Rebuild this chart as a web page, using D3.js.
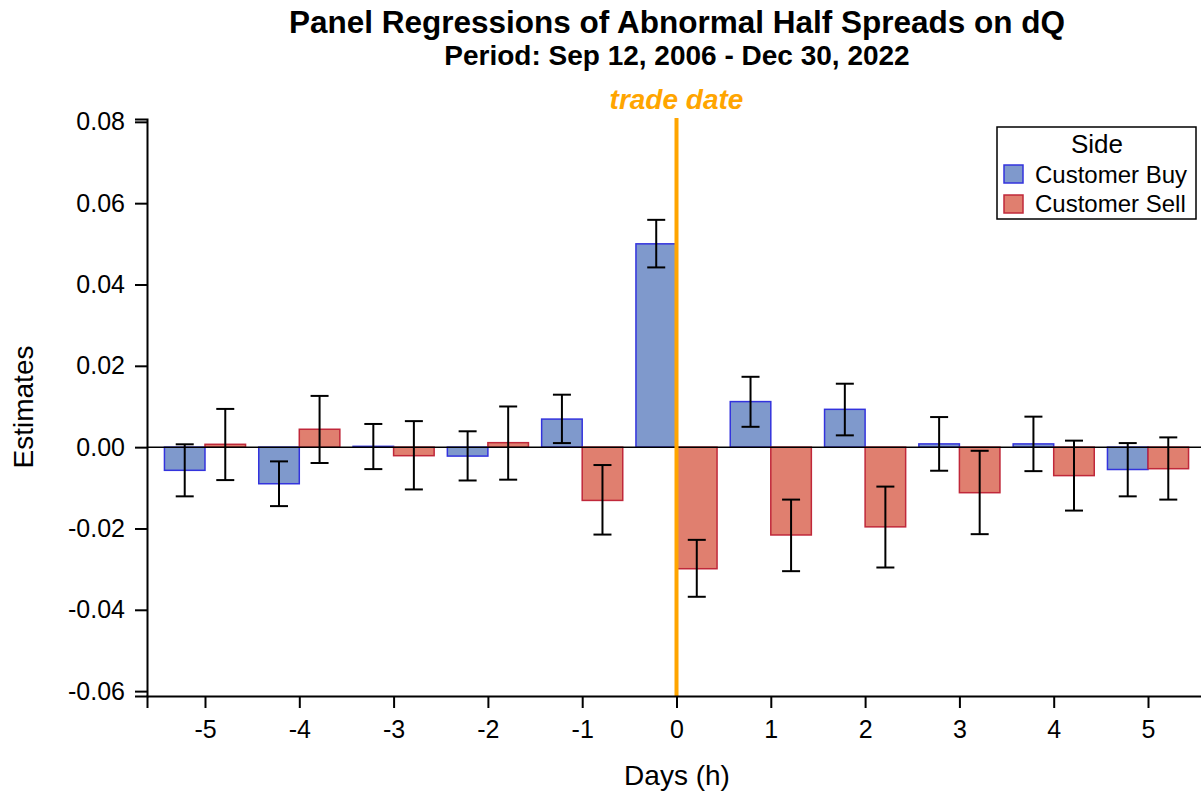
<!DOCTYPE html>
<html>
<head>
<meta charset="utf-8">
<script src="https://cdn.jsdelivr.net/npm/d3@7"></script>
<style>
  body { margin: 0; background: #fff; }
  text { font-family: "Liberation Sans", Arial, sans-serif; }
</style>
</head>
<body>
<div id="chart"></div>
<script>
// Data
const days = [-5, -4, -3, -2, -1, 0, 1, 2, 3, 4, 5];
const sides = ["Customer Buy", "Customer Sell"];
const buyEst = [-0.0057, -0.0090, 0.0002, -0.0022, 0.0069, 0.0500, 0.0112, 0.0093, 0.0008, 0.0008, -0.0055];
const buyLo  = [-0.0121, -0.0145, -0.0054, -0.0082, 0.0010, 0.0442, 0.0050, 0.0029, -0.0058, -0.0059, -0.0121];
const buyHi  = [0.0007, -0.0035, 0.0057, 0.0039, 0.0129, 0.0559, 0.0173, 0.0156, 0.0074, 0.0075, 0.0010];
const sellEst = [0.0007, 0.0044, -0.0021, 0.0011, -0.0131, -0.0299, -0.0216, -0.0196, -0.0112, -0.0070, -0.0053];
const sellLo  = [-0.0081, -0.0039, -0.0104, -0.0080, -0.0215, -0.0368, -0.0305, -0.0296, -0.0214, -0.0156, -0.0129];
const sellHi  = [0.0094, 0.0126, 0.0064, 0.0100, -0.0044, -0.0228, -0.0129, -0.0097, -0.0009, 0.0016, 0.0024];
const yTicks = [-0.06, -0.04, -0.02, 0.00, 0.02, 0.04, 0.06, 0.08];

const W = 1201, H = 796;

const svg = d3.select("#chart")
    .append("svg")
    .attr("width", W)
    .attr("height", H);

// Scales
const x = d3.scaleLinear().domain([-5.615, 5.615]).range([147, 1206]);
const y = d3.scaleLinear().domain([-0.0612, 0.0807]).range([696, 119]);
const fill = d3.scaleOrdinal().domain(sides).range(["#7f99cc", "#e07f6f"]);
const stroke = d3.scaleOrdinal().domain(sides).range(["#3333dd", "#c0283a"]);
const step = x(1) - x(0);
const barW = step * 0.43;

const rows = [];
days.forEach((d, i) => {
    rows.push({day: d, side: sides[0], est: buyEst[i], lo: buyLo[i], hi: buyHi[i], off: -1});
    rows.push({day: d, side: sides[1], est: sellEst[i], lo: sellLo[i], hi: sellHi[i], off: 0});
});

// Titles
svg.append("text")
    .attr("x", 677).attr("y", 33)
    .attr("text-anchor", "middle")
    .style("font-size", "31.5px").style("font-weight", "bold")
    .text("Panel Regressions of Abnormal Half Spreads on dQ");
svg.append("text")
    .attr("x", 677).attr("y", 65)
    .attr("text-anchor", "middle")
    .style("font-size", "28px").style("font-weight", "bold")
    .text("Period: Sep 12, 2006 - Dec 30, 2022");

// Bars
svg.selectAll("rect.bar")
    .data(rows)
    .enter()
    .append("rect")
    .attr("class", "bar")
    .attr("x", d => x(d.day) + d.off * barW)
    .attr("width", barW)
    .attr("y", d => Math.min(y(d.est), y(0)))
    .attr("height", d => Math.abs(y(d.est) - y(0)))
    .attr("fill", d => fill(d.side))
    .attr("stroke", d => stroke(d.side))
    .attr("stroke-width", 1.5);

// Zero line
svg.append("line")
    .attr("x1", 147).attr("x2", W)
    .attr("y1", y(0)).attr("y2", y(0))
    .attr("stroke", "#000").attr("stroke-width", 1.5);

// Trade date line
svg.append("line")
    .attr("x1", x(0)).attr("x2", x(0))
    .attr("y1", 118).attr("y2", 696)
    .attr("stroke", "orange").attr("stroke-width", 4);
svg.append("text")
    .attr("x", x(0)).attr("y", 109)
    .attr("text-anchor", "middle")
    .attr("fill", "orange")
    .style("font-size", "28px").style("font-weight", "bold").style("font-style", "italic")
    .text("trade date");

// Error bars
const cap = 9;
const err = svg.selectAll("g.err")
    .data(rows)
    .enter()
    .append("g")
    .attr("class", "err")
    .attr("stroke", "#000")
    .attr("stroke-width", 2);
const cx = d => x(d.day) + (d.off + 0.5) * barW;
err.append("line")
    .attr("x1", cx).attr("x2", cx)
    .attr("y1", d => y(d.lo)).attr("y2", d => y(d.hi));
err.append("line")
    .attr("x1", d => cx(d) - cap).attr("x2", d => cx(d) + cap)
    .attr("y1", d => y(d.lo)).attr("y2", d => y(d.lo));
err.append("line")
    .attr("x1", d => cx(d) - cap).attr("x2", d => cx(d) + cap)
    .attr("y1", d => y(d.hi)).attr("y2", d => y(d.hi));

// Axes
const yAxis = svg.append("g")
    .attr("transform", "translate(147,0)")
    .call(d3.axisLeft(y).tickValues(yTicks).tickFormat(d3.format(".2f")).tickSizeOuter(0).tickSize(12).tickPadding(10));
const xAxis = svg.append("g")
    .attr("transform", "translate(0,696)")
    .call(d3.axisBottom(x).tickValues(days).tickFormat(d3.format("d")).tickSizeOuter(0).tickSize(12).tickPadding(12));
[yAxis, xAxis].forEach(a => {
    a.selectAll("path, line").attr("stroke", "#000").attr("stroke-width", 2);
    a.selectAll("text").attr("fill", "#000")
        .style("font-size", "25px")
        .style("font-family", "'Liberation Sans', Arial, sans-serif");
});
yAxis.selectAll("text").text(d => d3.format(".2f")(d).replace("−", "-"));
xAxis.selectAll("text").text(d => String(d));

// Axis labels
svg.append("text")
    .attr("x", 677).attr("y", 785)
    .attr("text-anchor", "middle")
    .style("font-size", "28px")
    .text("Days (h)");
svg.append("text")
    .attr("transform", "translate(33,407) rotate(-90)")
    .attr("text-anchor", "middle")
    .style("font-size", "28px")
    .text("Estimates");

// Legend
const lg = svg.append("g").attr("transform", "translate(997,127)");
lg.append("rect")
    .attr("width", 199).attr("height", 92)
    .attr("fill", "#fff").attr("stroke", "#000").attr("stroke-width", 1.5);
lg.append("text")
    .attr("x", 100).attr("y", 26)
    .attr("text-anchor", "middle")
    .style("font-size", "26px")
    .text("Side");
sides.forEach((s, i) => {
    lg.append("rect")
        .attr("x", 7).attr("y", 38 + i * 30)
        .attr("width", 19).attr("height", 18)
        .attr("fill", fill(s)).attr("stroke", stroke(s)).attr("stroke-width", 1.5);
    lg.append("text")
        .attr("x", 38).attr("y", 56 + i * 29)
        .style("font-size", "24px")
        .text(s);
});
</script>
</body>
</html>
